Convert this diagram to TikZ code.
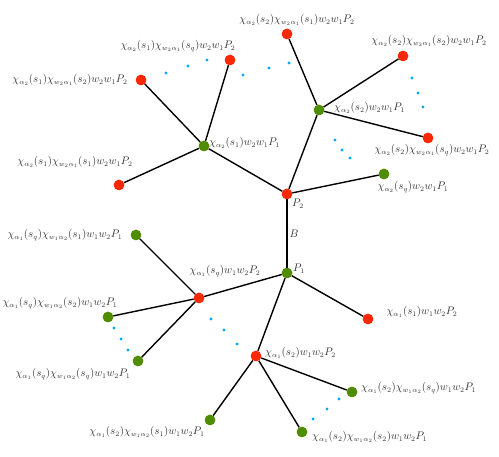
\documentclass[tikz,border=0pt]{standalone}
\definecolor{nred}{RGB}{250,40,5}
\definecolor{ngreen}{RGB}{80,140,0}
\definecolor{nblue}{RGB}{0,170,255}
\begin{document}
\begin{tikzpicture}[x=1pt,y=-1pt,
  rn/.style={circle,fill=nred,inner sep=0pt,minimum size=10.5pt},
  gn/.style={circle,fill=ngreen,inner sep=0pt,minimum size=10.5pt},
  bd/.style={circle,fill=nblue,inner sep=0pt,minimum size=3.4pt},
  edge/.style={line width=1.4pt,black},
  lab/.style={inner sep=1pt,font=\fontsize{10.5}{12}\selectfont,text=black!80}]
\useasboundingbox (0,0) rectangle (499,457);
% nodes
\node[rn] (P2) at (287,194) {};
\node[gn] (P1) at (287,273) {};
\node[gn] (B2s2) at (319,110) {};
\node[gn] (B2s1) at (204,146) {};
\node[gn] (B2sq) at (384,174) {};
\node[rn] (C21) at (287,34) {};
\node[rn] (C22) at (403,56) {};
\node[rn] (C2q) at (428,138) {};
\node[rn] (D1q) at (230,60) {};
\node[rn] (D12) at (141,80) {};
\node[rn] (D11) at (119,185) {};
\node[rn] (B1sq) at (199,298) {};
\node[rn] (B1s2) at (256,356) {};
\node[rn] (B1s1) at (368,319) {};
\node[gn] (E1) at (136,235) {};
\node[gn] (E2) at (108,317) {};
\node[gn] (Eq) at (138,361) {};
\node[gn] (F1) at (210,420) {};
\node[gn] (Fq) at (352,392) {};
\node[gn] (F2) at (302,432) {};
% edges
\draw[edge] (P2) -- (P1);
\draw[edge] (P2) -- (B2s2);
\draw[edge] (P2) -- (B2s1);
\draw[edge] (P2) -- (B2sq);
\draw[edge] (B2s2) -- (C21);
\draw[edge] (B2s2) -- (C22);
\draw[edge] (B2s2) -- (C2q);
\draw[edge] (B2s1) -- (D1q);
\draw[edge] (B2s1) -- (D12);
\draw[edge] (B2s1) -- (D11);
\draw[edge] (P1) -- (B1sq);
\draw[edge] (P1) -- (B1s2);
\draw[edge] (P1) -- (B1s1);
\draw[edge] (B1sq) -- (E1);
\draw[edge] (B1sq) -- (E2);
\draw[edge] (B1sq) -- (Eq);
\draw[edge] (B1s2) -- (F1);
\draw[edge] (B1s2) -- (Fq);
\draw[edge] (B1s2) -- (F2);
% redraw dots on top of the lines
\foreach \n in {P2,B1sq,B1s2,B1s1,C21,C22,C2q,D1q,D12,D11}{\node[rn] at (\n) {};}
\foreach \n in {P1,B2s2,B2s1,B2sq,E1,E2,Eq,F1,Fq,F2}{\node[gn] at (\n) {};}
% blue dots
\foreach \p [count=\i] in {(412,78),(418,93),(423,107),(335,140),(342,150),(350,158),
  (243,75),(269,68),(289,63),(166,73),(188,66),(207,60),
  (114,328),(121,339),(128,350),(211,319),(224,330),(237,344),
  (339,399),(327,409),(313,419)}{\node[bd] (bd\i) at \p {};}
% labels
\node[lab] (lP2) at (298,204) {$P_2$};
\node[lab] (lB) at (294,234) {$B$};
\node[lab] (lP1) at (299,269) {$P_1$};
\node[lab,anchor=west] (lB2s2) at (333,108) {$\chi_{\alpha_2}(s_2)w_2w_1P_1$};
\node[lab,anchor=west] (lB2s1) at (208,143) {$\chi_{\alpha_2}(s_1)w_2w_1P_1$};
\node[lab] (lB2sq) at (413,187) {$\chi_{\alpha_2}(s_q)w_2w_1P_1$};
\node[lab] (lC21) at (297,20) {$\chi_{\alpha_2}(s_2)\chi_{w_2\alpha_1}(s_1)w_2w_1P_2$};
\node[lab] (lC22) at (429,41) {$\chi_{\alpha_2}(s_2)\chi_{w_2\alpha_1}(s_2)w_2w_1P_2$};
\node[lab] (lC2q) at (432,150) {$\chi_{\alpha_2}(s_2)\chi_{w_2\alpha_1}(s_q)w_2w_1P_2$};
\node[lab] (lD1q) at (178,46) {$\chi_{\alpha_2}(s_1)\chi_{w_2\alpha_1}(s_q)w_2w_1P_2$};
\node[lab] (lD12) at (70,80) {$\chi_{\alpha_2}(s_1)\chi_{w_2\alpha_1}(s_2)w_2w_1P_2$};
\node[lab] (lD11) at (75,162) {$\chi_{\alpha_2}(s_1)\chi_{w_2\alpha_1}(s_1)w_2w_1P_2$};
\node[lab] (lB1sq) at (225,271) {$\chi_{\alpha_1}(s_q)w_1w_2P_2$};
\node[lab,anchor=west] (lB1s2) at (264,353) {$\chi_{\alpha_1}(s_2)w_1w_2P_2$};
\node[lab] (lB1s1) at (422,312) {$\chi_{\alpha_1}(s_1)w_1w_2P_2$};
\node[lab] (lE1) at (65,235) {$\chi_{\alpha_1}(s_q)\chi_{w_1\alpha_2}(s_1)w_1w_2P_1$};
\node[lab] (lE2) at (60,303) {$\chi_{\alpha_1}(s_q)\chi_{w_1\alpha_2}(s_2)w_1w_2P_1$};
\node[lab] (lEq) at (73,374) {$\chi_{\alpha_1}(s_q)\chi_{w_1\alpha_2}(s_q)w_1w_2P_1$};
\node[lab] (lF1) at (147,432) {$\chi_{\alpha_1}(s_2)\chi_{w_1\alpha_2}(s_1)w_1w_2P_1$};
\node[lab,anchor=west] (lFq) at (360,388) {$\chi_{\alpha_1}(s_2)\chi_{w_1\alpha_2}(s_q)w_1w_2P_1$};
\node[lab,anchor=west] (lF2) at (311,437) {$\chi_{\alpha_1}(s_2)\chi_{w_1\alpha_2}(s_2)w_1w_2P_1$};
\end{tikzpicture}
\end{document}
